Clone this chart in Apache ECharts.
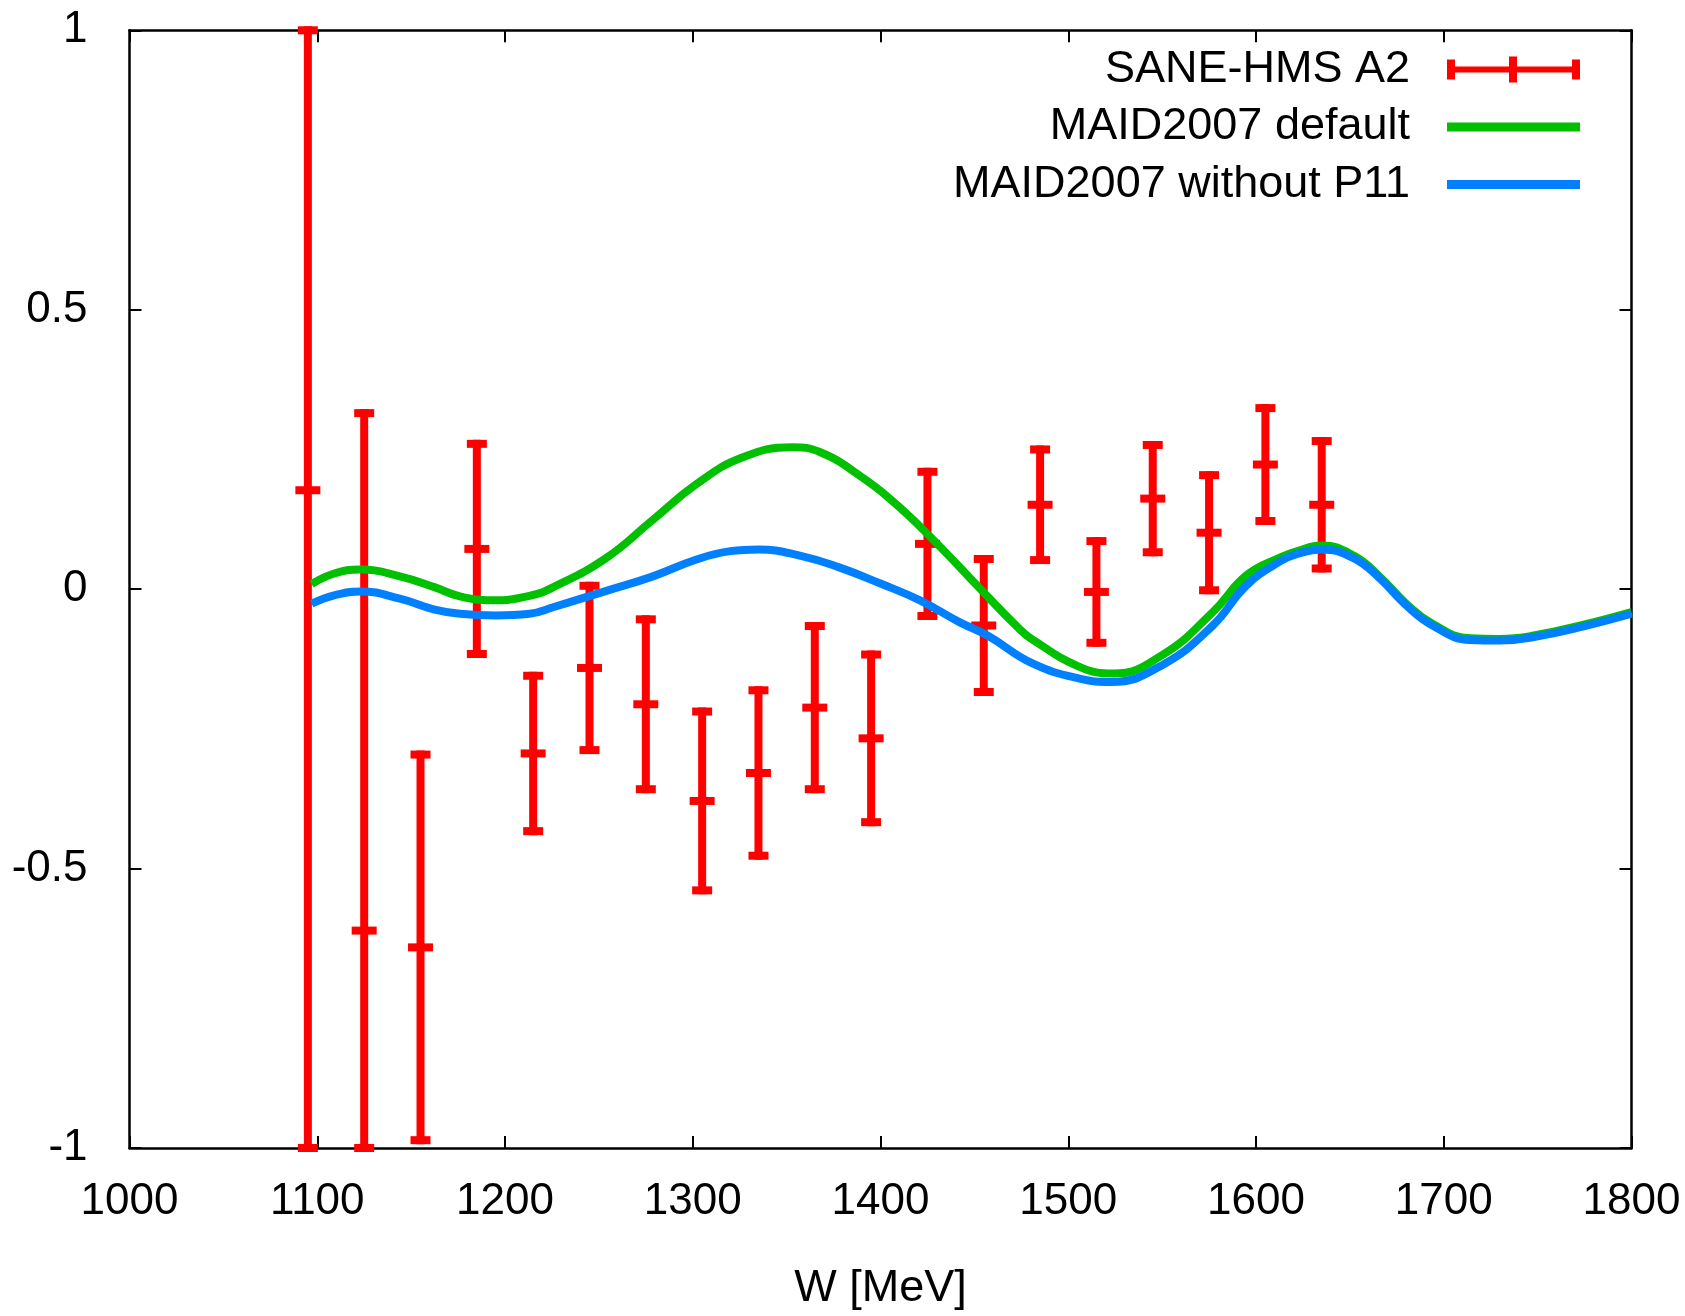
<!DOCTYPE html>
<html>
<head>
<meta charset="utf-8">
<script src="https://cdn.jsdelivr.net/npm/echarts@6/dist/echarts.min.js"></script>
<style>
  html, body { margin: 0; padding: 0; background: #ffffff; }
  #chart { width: 1685px; height: 1316px; }
</style>
</head>
<body>
<div id="chart"></div>
<script>
// Axis ranges
const X_MIN = 1000, X_MAX = 1800, X_STEP = 100;
const Y_MIN = -1, Y_MAX = 1, Y_STEP = 0.5;

// Series names
const nameData = 'SANE-HMS A2';
const nameDefault = 'MAID2007 default';
const nameNoP11 = 'MAID2007 without P11';

// SANE-HMS A2 measurement: W bin centres [MeV], asymmetry, statistical error
const wBins = [1095, 1125, 1155, 1185, 1215, 1245, 1275, 1305, 1335, 1365,
               1395, 1425, 1455, 1485, 1515, 1545, 1575, 1605, 1635];
const a2Values = [0.177, -0.611, -0.641, 0.072, -0.294, -0.141, -0.206, -0.379, -0.329, -0.212,
                  -0.267, 0.081, -0.065, 0.151, -0.005, 0.162, 0.101, 0.223, 0.151];
const a2Errors = [1.18, 0.926, 0.345, 0.188, 0.139, 0.147, 0.152, 0.160, 0.148, 0.146,
                  0.150, 0.129, 0.119, 0.099, 0.091, 0.096, 0.103, 0.101, 0.114];

// MAID2007 default curve
const maidDefaultW = [1097, 1109, 1123, 1144, 1162, 1176, 1193, 1213, 1226, 1254,
                      1278, 1302, 1326, 1353, 1368, 1389, 1410, 1432, 1453, 1473,
                      1480, 1506, 1524, 1550, 1577, 1595, 1613, 1622, 1635, 1652,
                      1666, 1680, 1694, 1714, 1730, 1748, 1774, 1800];
const maidDefaultA2 = [0.009, 0.028, 0.035, 0.023, 0.004, -0.013, -0.020, -0.012, 0.004, 0.056,
                       0.122, 0.188, 0.235, 0.254, 0.245, 0.203, 0.147, 0.075, 0.001, -0.068,
                       -0.088, -0.139, -0.151, -0.118, -0.041, 0.025, 0.057, 0.068, 0.078, 0.060,
                       0.022, -0.026, -0.062, -0.088, -0.089, -0.083, -0.064, -0.041];

// MAID2007 with the P11 resonance switched off
const maidNoP11W = [1097, 1109, 1123, 1144, 1162, 1176, 1195, 1213, 1226, 1254,
                    1278, 1302, 1320, 1335, 1357, 1378, 1400, 1421, 1442, 1457,
                    1481, 1506, 1523, 1550, 1577, 1595, 1613, 1622, 1635, 1652,
                    1666, 1680, 1694, 1714, 1730, 1748, 1774, 1800];
const maidNoP11A2 = [-0.026, -0.011, -0.004, -0.017, -0.036, -0.044, -0.047, -0.044, -0.032, -0.003,
                     0.022, 0.053, 0.068, 0.071, 0.060, 0.039, 0.010, -0.020, -0.059, -0.083,
                     -0.133, -0.160, -0.166, -0.136, -0.065, 0.007, 0.050, 0.063, 0.071, 0.0555,
                     0.019, -0.029, -0.065, -0.091, -0.092, -0.0855, -0.067, -0.044];

const FONT = '"Liberation Sans", Arial, sans-serif';
const RED = '#ff0000', GREEN = '#00c000', BLUE = '#0080ff';

const zip = (xs, ys) => xs.map((x, i) => [x, ys[i]]);
const errData = wBins.map((w, i) => [w, a2Values[i], a2Errors[i]]);

// Vertical error bar with end caps and a centre tick; ends are held at the frame.
function renderErrorBar(params, api) {
  const w = api.value(0), a = api.value(1), e = api.value(2);
  const hi = Math.min(a + e, Y_MAX), lo = Math.max(a - e, Y_MIN);
  const top = api.coord([w, hi]);
  const bot = api.coord([w, lo]);
  const mid = api.coord([w, a]);
  const seg = (x1, y1, x2, y2) => ({
    type: 'line',
    shape: { x1: x1, y1: y1, x2: x2, y2: y2 },
    style: { stroke: RED, lineWidth: 8, lineCap: 'butt' }
  });
  return {
    type: 'group',
    children: [
      seg(top[0], top[1] - 4, bot[0], bot[1] + 4),
      seg(top[0] - 10, top[1], top[0] + 10, top[1]),
      seg(bot[0] - 10, bot[1], bot[0] + 10, bot[1]),
      seg(mid[0] - 12.5, mid[1], mid[0] + 12.5, mid[1])
    ]
  };
}

const axisLineStyle = { color: '#000', width: 2.5 };
const tickStyle = { show: true, inside: true, length: 12, lineStyle: { color: '#000', width: 2 } };
const labelStyle = { color: '#000', fontSize: 44, fontFamily: FONT };

const chart = echarts.init(document.getElementById('chart'), null, { renderer: 'canvas' });
chart.setOption({
  animation: false,
  backgroundColor: '#ffffff',
  grid: { left: 129.5, right: 53.5, top: 30.3, bottom: 165, containLabel: false },
  legend: {
    orient: 'vertical',
    right: 100,
    top: 41.5,
    align: 'right',
    itemWidth: 133,
    itemHeight: 26,
    itemGap: 11.5,
    selectedMode: false,
    symbolKeepAspect: true,
    itemStyle: { borderWidth: 0 },
    textStyle: { color: '#000', fontSize: 45, fontFamily: FONT, lineHeight: 46, padding: [0, 32, 0, 0] },
    data: [
      { name: nameData, icon: 'path://M0,3H8V23H0Z M62,0H70V26H62Z M125,3H133V23H125Z M0,10H133V16H0Z' },
      { name: nameDefault, icon: 'path://M0,0H133V9H0Z' },
      { name: nameNoP11, icon: 'path://M0,0H133V9H0Z' }
    ]
  },
  xAxis: [
    {
      type: 'value', min: X_MIN, max: X_MAX, interval: X_STEP, position: 'bottom',
      axisLine: { show: true, onZero: false, lineStyle: axisLineStyle },
      axisTick: tickStyle,
      splitLine: { show: false },
      axisLabel: Object.assign({ margin: 32, showMinLabel: true, showMaxLabel: true,
                                 formatter: v => String(v) }, labelStyle),
      name: 'W [MeV]', nameLocation: 'middle', nameGap: 118,
      nameTextStyle: { color: '#000', fontSize: 45, fontFamily: FONT }
    },
    {
      type: 'value', min: X_MIN, max: X_MAX, interval: X_STEP, position: 'top',
      axisLine: { show: true, onZero: false, lineStyle: axisLineStyle },
      axisTick: tickStyle,
      splitLine: { show: false },
      axisLabel: { show: false }
    }
  ],
  yAxis: [
    {
      type: 'value', min: Y_MIN, max: Y_MAX, interval: Y_STEP, position: 'left',
      axisLine: { show: true, onZero: false, lineStyle: axisLineStyle },
      axisTick: tickStyle,
      splitLine: { show: false },
      axisLabel: Object.assign({ margin: 42, showMinLabel: true, showMaxLabel: true }, labelStyle)
    },
    {
      type: 'value', min: Y_MIN, max: Y_MAX, interval: Y_STEP, position: 'right',
      axisLine: { show: true, onZero: false, lineStyle: axisLineStyle },
      axisTick: tickStyle,
      splitLine: { show: false },
      axisLabel: { show: false }
    }
  ],
  series: [
    {
      name: nameData,
      type: 'custom',
      xAxisIndex: 0, yAxisIndex: 0,
      itemStyle: { color: RED },
      renderItem: renderErrorBar,
      data: errData,
      z: 2
    },
    {
      name: nameDefault,
      type: 'line',
      xAxisIndex: 0, yAxisIndex: 0,
      data: zip(maidDefaultW, maidDefaultA2),
      smooth: 0.45,
      symbol: 'none',
      color: GREEN,
      lineStyle: { color: GREEN, width: 8 },
      z: 3
    },
    {
      name: nameNoP11,
      type: 'line',
      xAxisIndex: 0, yAxisIndex: 0,
      data: zip(maidNoP11W, maidNoP11A2),
      smooth: 0.45,
      symbol: 'none',
      color: BLUE,
      lineStyle: { color: BLUE, width: 8 },
      z: 4
    }
  ]
});
</script>
</body>
</html>
